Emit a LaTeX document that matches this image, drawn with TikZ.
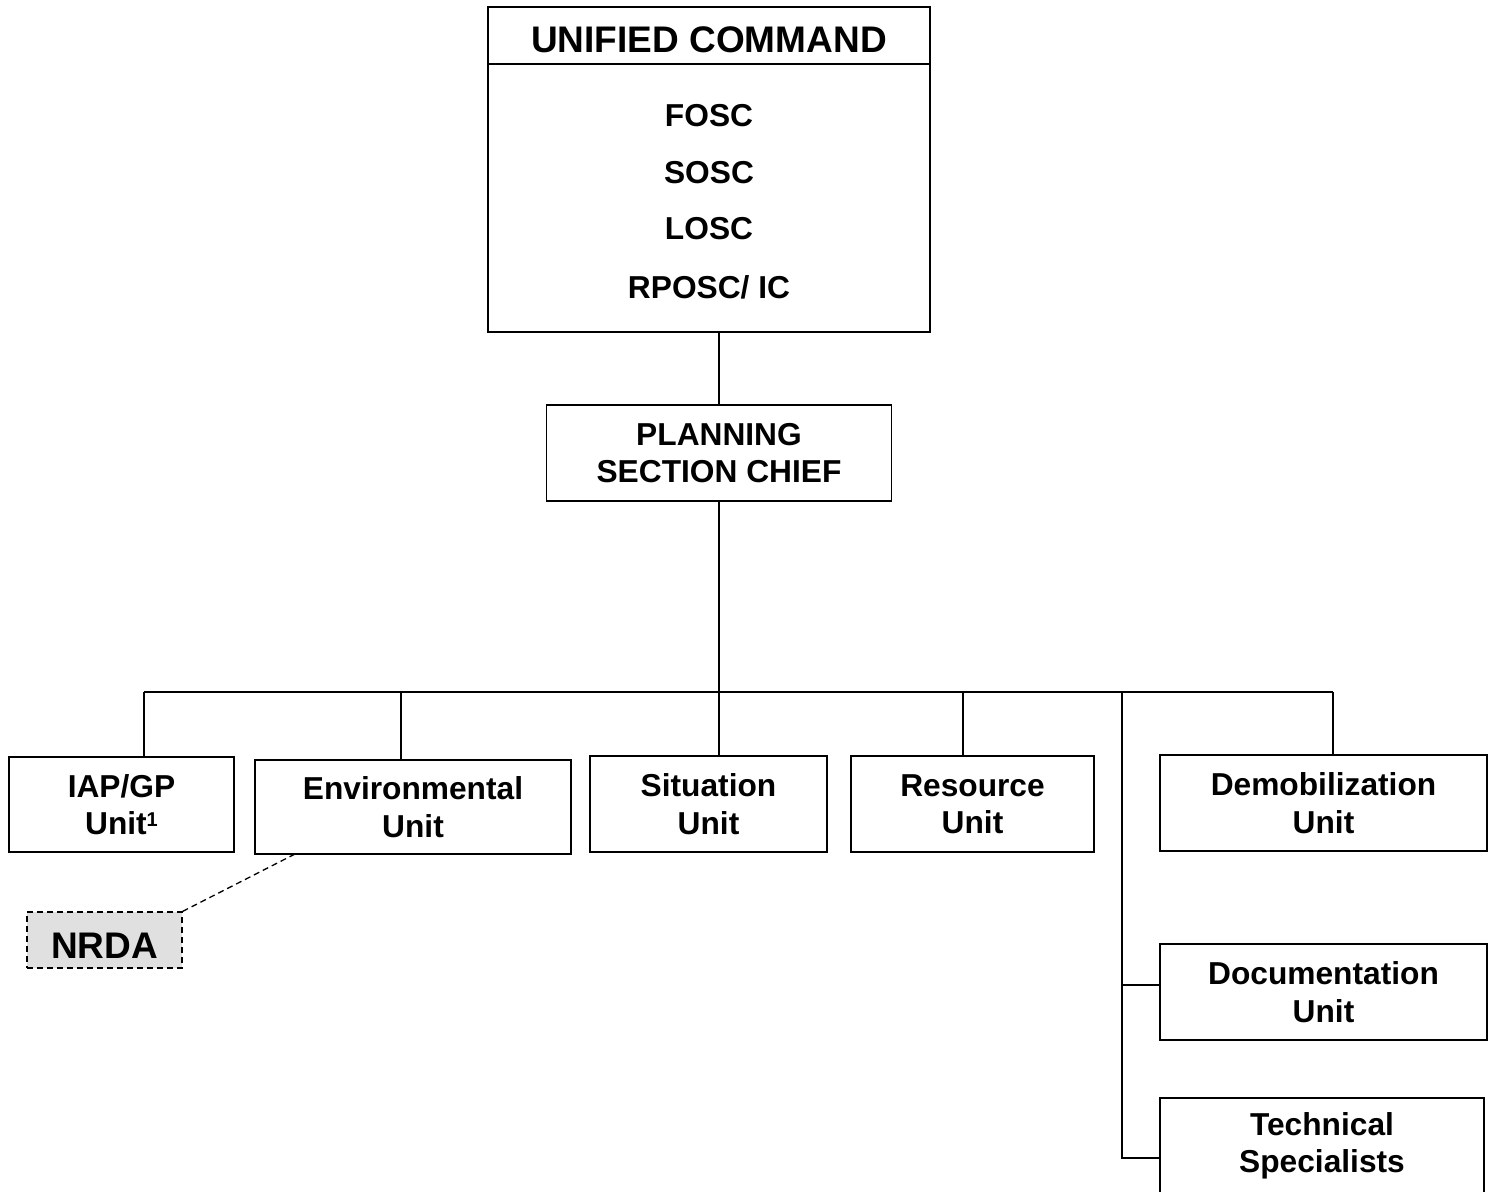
\documentclass[tikz,border=0pt]{standalone}
\usepackage{fontspec}
\setmainfont{Liberation Sans}
\begin{document}
\begin{tikzpicture}[x=1pt,y=-1pt,
  box/.style={draw,line width=1.6pt,inner sep=0pt,align=center,
    font=\fontsize{31.7}{37.5}\selectfont\bfseries},
  lbl/.style={inner sep=0pt,font=\fontsize{31.7}{37.5}\selectfont\bfseries},
  conn/.style={line width=1.5pt},
  dconn/.style={line width=1.3pt,dash pattern=on 6pt off 4pt}]
\clip (0,0) rectangle (1496,1191);
\fill[white] (0,0) rectangle (1496,1191);
% Unified command
\node[draw,line width=1.6pt,minimum width=442pt,minimum height=325pt,inner sep=0pt] (uc) at (709,169.5) {};
\draw[line width=1.6pt] (uc.west |- 0,64) -- (uc.east |- 0,64);
\node[inner sep=0pt,font=\fontsize{37}{40}\selectfont\bfseries] (uct) at (709,40) {UNIFIED COMMAND};
\node[lbl] (fosc) at (709,116) {FOSC};
\node[lbl] (sosc) at (709,173) {SOSC};
\node[lbl] (losc) at (709,229) {LOSC};
\node[lbl] (rposc) at (709,287) {RPOSC/ IC};
% Planning section chief
\node[box,minimum width=345pt,minimum height=96pt] (psc) at (719,453) {PLANNING\\SECTION CHIEF};
% Units
\node[box,minimum width=225pt,minimum height=95pt] (iap) at (121.5,804.5) {IAP/GP\\Unit\raisebox{8pt}{\fontsize{20}{20}\selectfont 1}};
\node[box,minimum width=316pt,minimum height=94pt] (env) at (413,807) {Environmental\\Unit};
\node[box,minimum width=237pt,minimum height=96pt] (sit) at (708.5,804) {Situation\\Unit};
\node[box,minimum width=243pt,minimum height=96pt] (res) at (972.5,804) {Resource\\Unit};
\node[box,minimum width=327pt,minimum height=96pt] (dem) at (1323.5,803) {Demobilization\\Unit};
\node[box,minimum width=327pt,minimum height=96pt] (doc) at (1323.5,992) {Documentation\\Unit};
\node[box,minimum width=324pt,minimum height=96pt] (tech) at (1322,1146) {Technical\\Specialists};
\node[draw,fill=black!12,line width=1.3pt,dash pattern=on 6pt off 4pt,
  minimum width=155pt,minimum height=56pt,inner sep=0pt,
  text height=36.5pt,text depth=0pt,
  font=\fontsize{37}{40}\selectfont\bfseries] (nrda) at (104.5,940) {NRDA};
% Connectors
\draw[conn] (psc.north) -- (psc.north |- uc.south);
\coordinate (bus) at (719,692);
\coordinate (bl) at (144,692);
\coordinate (br) at (1333,692);
\coordinate (benv) at (401,692);
\coordinate (bres) at (963,692);
\coordinate (bsp) at (1122,692);
\draw[conn] (psc.south) -- (bus);
\draw[conn] (bl) -- (br);
\draw[conn] (bl) -- (bl |- iap.north);
\draw[conn] (benv) -- (benv |- env.north);
\draw[conn] (bus) -- (bus |- sit.north);
\draw[conn] (bres) -- (bres |- res.north);
\draw[conn] (br) -- (br |- dem.north);
\coordinate (bdoc) at (1122,985);
\coordinate (btech) at (1122,1158);
\draw[conn] (bsp) -- (btech) -- (btech -| tech.west);
\draw[conn] (bdoc) -- (bdoc -| doc.west);
\coordinate (envd) at (295,854);
\draw[dconn] (nrda.north east) -- (envd);
\end{tikzpicture}
\end{document}
